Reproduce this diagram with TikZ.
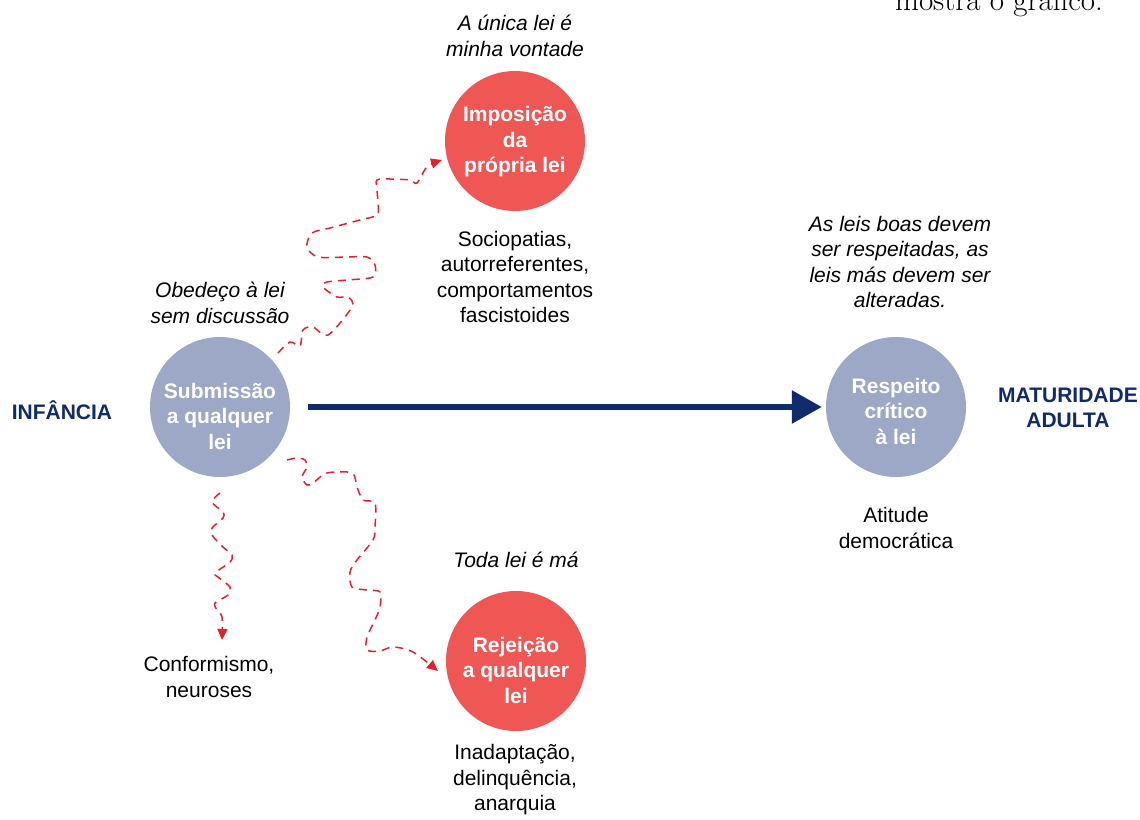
\documentclass[tikz,border=0pt]{standalone}
\usepackage{fontspec}
\setmainfont{Liberation Sans}
\newfontfamily\bookserif{Latin Modern Roman}
\usetikzlibrary{arrows.meta}
\definecolor{navyblue}{HTML}{0F2B6C}
\definecolor{slate}{HTML}{9DA8C6}
\definecolor{coral}{HTML}{EE5753}
\definecolor{pathred}{HTML}{E3202B}
\begin{document}
\begin{tikzpicture}[x=1pt,y=-1pt,
  stage/.style={circle,minimum size=140pt,inner sep=0pt},
  calm/.style={stage,fill=slate},
  hot/.style={stage,fill=coral},
  stagetext/.style={align=center,text=white,inner sep=0pt,
    font=\fontsize{21}{25.5}\selectfont\bfseries},
  note/.style={align=center,font=\fontsize{21}{25.5}\selectfont},
  motto/.style={note,font=\fontsize{21}{25.5}\selectfont\itshape},
  pole/.style={align=center,text=navyblue,font=\fontsize{21}{25}\selectfont\bfseries},
  wander/.style={pathred,line width=1.5pt,dash pattern=on 8pt off 6pt,
    -{Triangle[length=11pt,width=10pt]}}]
\useasboundingbox (0,0) rectangle (1140,819);

% last line of the surrounding paragraph, cut by the page edge
\node[anchor=base,font=\bookserif\fontsize{31}{31}\selectfont] (caption) at (999,10) {mostra o gráfico.};

% stages
\node[calm] (sub) at (220,407) {};
\node[hot] (imp) at (515,141) {};
\node[hot] (rej) at (516,661) {};
\node[calm] (resp) at (896,407) {};
\node[stagetext] (subt) at ([yshift=-9pt]sub.center) {Submissão\\a qualquer\\lei};
\node[stagetext] (impt) at ([yshift=-1pt]imp.center) {Imposição\\da\\própria lei};
\node[stagetext] (rejt) at ([yshift=-9pt]rej.center) {Rejeição\\a qualquer\\lei};
\node[stagetext] (respt) at ([yshift=-4pt]resp.center) {Respeito\\crítico\\à lei};

% ends of the development axis
\node[pole] (inf) at (62,410) {INFÂNCIA};
\node[pole] (mat) at (1068,408) {MATURIDADE\\ADULTA};

% mottos
\node[motto] (m1) at (220,303) {Obedeço à lei\\sem discussão};
\node[motto] (m2) at (515,36) {A única lei é\\minha vontade};
\node[motto] (m3) at (900,262) {As leis boas devem\\ser respeitadas, as\\leis más devem ser\\alteradas.};
\node[motto] (m4) at (516,560) {Toda lei é má};

% outcomes
\node[note] (o1) at (515,277) {Sociopatias,\\autorreferentes,\\comportamentos\\fascistoides};
\node[note] (o2) at (896,528) {Atitude\\democrática};
\node[note] (o3) at (209,677) {Conformismo,\\neuroses};
\node[note] (o4) at (515,780) {Inadaptação,\\delinquência,\\anarquia};

% healthy development
\draw[navyblue,line width=6pt,shorten <=18pt,shorten >=4pt,
  -{Triangle[length=30pt,width=32pt]}] (sub) -- (resp);

% deviant paths
\coordinate (s1) at (278,353);
\coordinate (s2) at (287,460);
\coordinate (s3) at (220,493);
\coordinate (e1) at (442,160);
\coordinate (e2) at (438,671);
\coordinate (e3) at (222,640);

\draw[wander] plot[smooth,tension=0.5] coordinates {
  (s1) (290,342) (300,346) (303,330) (313,327) (328,335) (352,307)
  (348,297) (337,297) (323,287) (327,282) (347,280) (373,277) (375,265)
  (367,257) (347,257) (318,257) (307,247) (312,233) (330,228) (360,220)
  (377,215) (378,203) (377,190) (377,180) (390,179) (410,180) (417,183)
  (427,167) (e1)};

\draw[wander] plot[smooth,tension=0.5] coordinates {
  (s2) (297,458) (305,460) (307,467) (302,477) (307,485) (313,483)
  (327,473) (352,473) (357,487) (363,500) (375,503) (375,527) (373,540)
  (357,560) (350,572) (352,587) (367,590) (380,592) (380,607) (375,620)
  (367,637) (367,650) (380,651) (393,647) (413,652) (e2)};

\draw[wander] plot[smooth,tension=0.5] coordinates {
  (s3) (212,502) (223,512) (223,518) (212,528) (212,535) (223,547)
  (232,555) (230,562) (215,573) (218,577) (230,587) (228,595) (215,603)
  (217,610) (222,617) (e3)};
\end{tikzpicture}
\end{document}
